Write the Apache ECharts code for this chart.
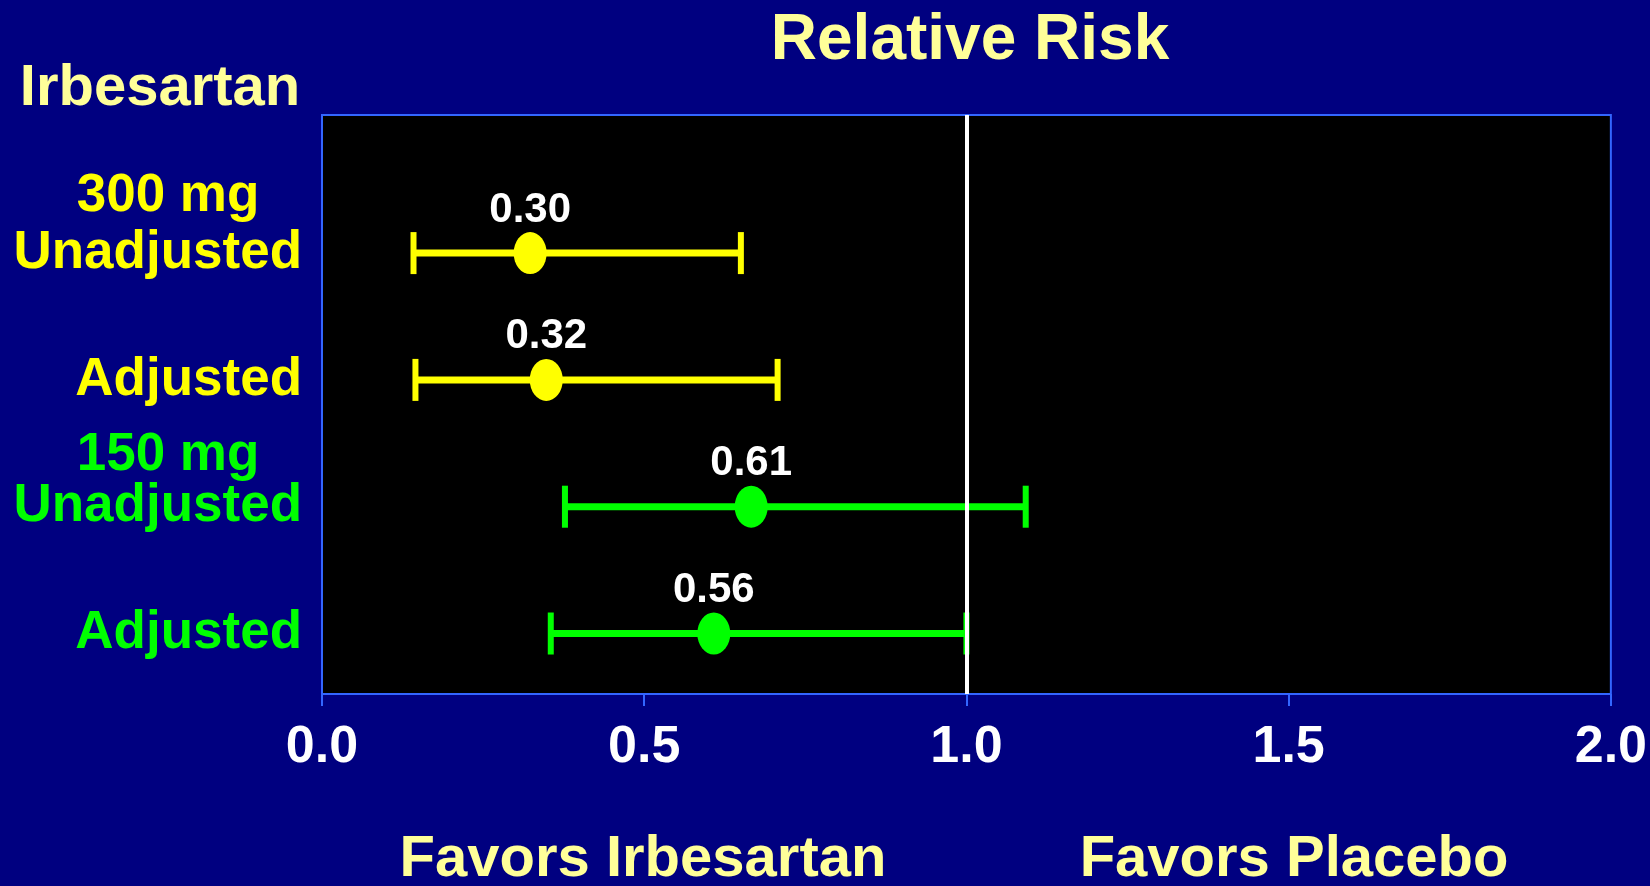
<!DOCTYPE html>
<html>
<head>
<meta charset="utf-8">
<script src="https://cdn.jsdelivr.net/npm/echarts@6/dist/echarts.min.js"></script>
<style>
  html, body { margin: 0; padding: 0; background: #000080; }
  #forest { width: 1650px; height: 886px; }
</style>
</head>
<body>
<div id="forest"></div>
<script>
// rows top to bottom
var rowNames = ['Unadjusted', 'Adjusted', 'Unadjusted', 'Adjusted'];
var rowGroups = ['y', 'y', 'g', 'g'];
var rowPos = [1, 2, 3, 4];
var estimates = [0.323, 0.348, 0.666, 0.608];
var lowerCI = [0.142, 0.145, 0.377, 0.355];
var upperCI = [0.650, 0.707, 1.092, 1.0];
var estLabels = ['0.30', '0.32', '0.61', '0.56'];

var FONT = 'Liberation Sans, Arial, sans-serif';
var colors = { y: '#ffff00', g: '#00ff00' };
var pale = '#ffff99';

var chart = echarts.init(document.getElementById('forest'));

var ciData = rowPos.map(function (p, i) {
    return [lowerCI[i], upperCI[i], p, colors[rowGroups[i]]];
});
var pointData = rowPos.map(function (p, i) {
    return {
        value: [estimates[i], p],
        itemStyle: { color: colors[rowGroups[i]], opacity: 1 },
        label: { formatter: estLabels[i] }
    };
});

function paleText(txt, x, y, size) {
    return {
        type: 'text',
        x: x, y: y,
        style: {
            text: txt,
            font: 'bold ' + size + 'px ' + FONT,
            fill: pale,
            align: 'center',
            verticalAlign: 'middle',
            textShadowColor: '#000000',
            textShadowOffsetX: 3,
            textShadowOffsetY: 3,
            textShadowBlur: 0
        }
    };
}

var option = {
    backgroundColor: '#000080',
    animation: false,
    grid: {
        show: true,
        left: 322,
        right: 39,
        top: 115,
        bottom: 192,
        backgroundColor: '#000000',
        borderColor: '#3366ff',
        borderWidth: 2
    },
    xAxis: {
        type: 'value',
        min: 0,
        max: 2,
        interval: 0.5,
        position: 'bottom',
        splitLine: { show: false },
        axisLine: { show: false, onZero: false },
        axisTick: {
            show: true,
            length: 12,
            lineStyle: { color: '#3366ff', width: 2 }
        },
        axisLabel: {
            color: '#ffffff',
            fontFamily: FONT,
            fontWeight: 'bold',
            fontSize: 52,
            margin: 28,
            formatter: function (v) { return v.toFixed(1); }
        }
    },
    yAxis: {
        type: 'value',
        inverse: true,
        min: -0.089,
        max: 4.477,
        splitLine: { show: false },
        axisLine: { show: false, onZero: false },
        axisTick: { show: false },
        axisLabel: {
            customValues: rowPos,
            margin: 20,
            formatter: function (v) {
                var i = rowPos.indexOf(v);
                return '{' + rowGroups[i] + '|' + rowNames[i] + '}';
            },
            rich: {
                y: { color: colors.y, fontFamily: FONT, fontWeight: 'bold', fontSize: 53 },
                g: { color: colors.g, fontFamily: FONT, fontWeight: 'bold', fontSize: 53 }
            }
        }
    },
    graphic: [
        paleText('Relative Risk', 970, 41, 64),
        paleText('Irbesartan', 160, 89, 58),
        {
            type: 'text', x: 168, y: 196,
            style: { text: '300 mg', font: 'bold 53px ' + FONT, fill: colors.y, align: 'center', verticalAlign: 'middle' }
        },
        {
            type: 'text', x: 168, y: 455,
            style: { text: '150 mg', font: 'bold 53px ' + FONT, fill: colors.g, align: 'center', verticalAlign: 'middle' }
        },
        paleText('Favors Irbesartan', 643, 860, 58),
        paleText('Favors Placebo', 1294, 860, 58)
    ],
    series: [
        {
            type: 'custom',
            data: ciData,
            renderItem: function (params, api) {
                var a = api.coord([api.value(0), api.value(2)]);
                var b = api.coord([api.value(1), api.value(2)]);
                var c = ciData[params.dataIndex][3];
                var st = { stroke: c, lineWidth: 7 };
                var capSt = { stroke: c, lineWidth: 6 };
                return {
                    type: 'group',
                    children: [
                        { type: 'line', shape: { x1: a[0], y1: a[1], x2: b[0], y2: b[1] }, style: st },
                        { type: 'line', shape: { x1: a[0], y1: a[1] - 21, x2: a[0], y2: a[1] + 21 }, style: capSt },
                        { type: 'line', shape: { x1: b[0], y1: b[1] - 21, x2: b[0], y2: b[1] + 21 }, style: capSt }
                    ]
                };
            },
            z: 3
        },
        {
            type: 'scatter',
            data: pointData,
            symbol: 'circle',
            symbolSize: [33, 42],
            itemStyle: { opacity: 1 },
            label: {
                show: true,
                position: 'top',
                distance: 1,
                color: '#ffffff',
                opacity: 1,
                fontFamily: FONT,
                fontWeight: 'bold',
                fontSize: 42
            },
            markLine: {
                silent: true,
                symbol: 'none',
                label: { show: false },
                lineStyle: { color: '#ffffff', width: 4, type: 'solid', opacity: 1 },
                data: [{ xAxis: 1 }]
            },
            z: 4
        }
    ]
};
chart.setOption(option);
</script>
</body>
</html>
